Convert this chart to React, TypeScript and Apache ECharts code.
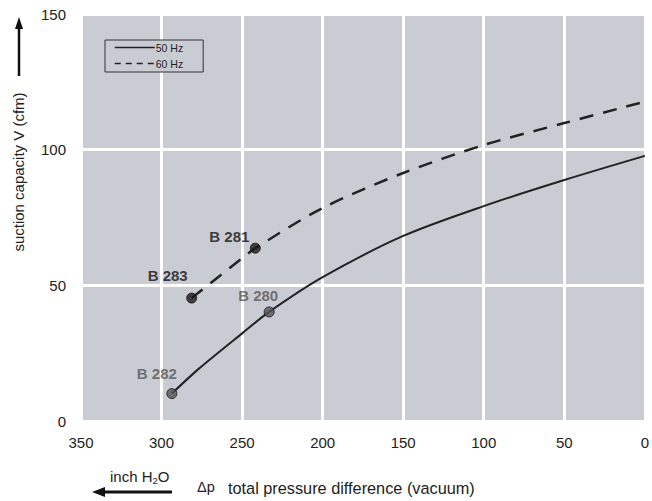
import React, { useEffect, useRef } from "react";
import * as echarts from "echarts";

const xTicks = { min: 0, max: 350, interval: 50 };
const yTicks = { min: 0, max: 150, interval: 50 };

const curve50Hz: [number, number][] = [
  [293.6, 10.1], [276.8, 19.3], [250, 32.3], [233.2, 40.2], [200, 53],
  [150, 68.2], [100, 79.2], [50, 88.8], [0, 97.7],
];
const curve60Hz: [number, number][] = [
  [281.3, 45.3], [250, 60], [241.8, 63.7], [200, 78.5], [150, 91.4],
  [100, 101.7], [50, 109.8], [0, 117.7],
];

const models50Hz = ["B 282", "B 280"];
const points50Hz: [number, number][] = [[293.6, 10.1], [233.2, 40.2]];
const models60Hz = ["B 283", "B 281"];
const points60Hz: [number, number][] = [[281.3, 45.3], [241.8, 63.7]];

const labelOffsets: Record<string, [number, number]> = {
  "B 282": [-15, -20],
  "B 280": [-11, -16],
  "B 283": [-24, -23],
  "B 281": [-26, -12],
};

const FONT = "'Liberation Sans', Arial, sans-serif";

export default function App() {
  const ref = useRef<HTMLDivElement>(null);
  useEffect(() => {
    if (!ref.current) return;
    const chart = echarts.init(ref.current, undefined, { renderer: "svg" });
    const mkPoints = (names: string[], pts: [number, number][], fill: string, txt: string) =>
      pts.map((p, i) => ({
        value: p,
        name: names[i],
        itemStyle: { color: fill, borderColor: "#111", borderWidth: 1 },
        label: {
          show: true,
          formatter: names[i],
          position: "inside",
          offset: labelOffsets[names[i]],
          color: txt,
          fontWeight: "bold",
          fontSize: 15,
          fontFamily: FONT,
        },
      }));
    chart.setOption({
      animation: false,
      textStyle: { fontFamily: FONT },
      grid: {
        left: 81, right: 2, top: 14, bottom: 80,
        show: true, backgroundColor: "#caccd3", borderWidth: 0,
      },
      legend: {
        data: [
          { name: "50 Hz" },
          { name: "60 Hz", lineStyle: { type: [6, 5], width: 1.5 } },
        ],
        orient: "vertical",
        left: 105,
        top: 40,
        itemWidth: 40,
        itemHeight: 10,
        itemGap: 5,
        padding: [2, 20, 3, 9],
        borderColor: "#333",
        borderWidth: 1,
        backgroundColor: "#caccd3",
        itemStyle: { opacity: 0 },
        lineStyle: { width: 1.5 },
        textStyle: { fontSize: 10.5, color: "#222", fontFamily: FONT, padding: [0, 0, 0, -4] },
      },
      xAxis: {
        type: "value",
        inverse: true,
        min: xTicks.min, max: xTicks.max, interval: xTicks.interval,
        axisLine: { show: false }, axisTick: { show: false },
        splitLine: { show: true, lineStyle: { color: "#ffffff", width: 3 } },
        axisLabel: { fontSize: 15, color: "#222", margin: 14, fontFamily: FONT },
      },
      yAxis: {
        type: "value",
        min: yTicks.min, max: yTicks.max, interval: yTicks.interval,
        axisLine: { show: false }, axisTick: { show: false },
        splitLine: { show: true, lineStyle: { color: "#ffffff", width: 3 } },
        axisLabel: { fontSize: 15, color: "#222", margin: 15, fontFamily: FONT },
      },
      series: [
        {
          name: "50 Hz", type: "line", data: curve50Hz, smooth: 0.3, symbol: "none",
          lineStyle: { color: "#222", width: 2 }, itemStyle: { color: "#222" }, z: 2,
        },
        {
          name: "60 Hz", type: "line", data: curve60Hz, smooth: 0.3, symbol: "none",
          lineStyle: { color: "#222", width: 2.5, type: [14, 10] }, itemStyle: { color: "#222" }, z: 2,
        },
        {
          name: "m50", type: "scatter", symbolSize: 10, z: 3,
          data: mkPoints(models50Hz, points50Hz, "#555", "#555"),
        },
        {
          name: "m60", type: "scatter", symbolSize: 10, z: 3,
          data: mkPoints(models60Hz, points60Hz, "#1a1a1a", "#111"),
        },
      ],
      graphic: [
        { type: "line", shape: { x1: 19, y1: 28, x2: 19, y2: 76 }, style: { stroke: "#111", lineWidth: 2.5 } },
        { type: "polygon", shape: { points: [[19, 17], [15, 29], [23, 29]] }, style: { fill: "#111" } },
        {
          type: "text", x: 18, y: 172, rotation: Math.PI / 2,
          style: { text: "suction capacity V (cfm)", fontSize: 15, fill: "#222", fontFamily: FONT, align: "center", verticalAlign: "middle" },
        },
        { type: "line", shape: { x1: 103, y1: 492, x2: 172, y2: 492 }, style: { stroke: "#111", lineWidth: 3 } },
        { type: "polygon", shape: { points: [[92, 492], [105, 487], [105, 497]] }, style: { fill: "#111" } },
        {
          type: "text", x: 110, y: 476,
          style: {
            text: "{a|inch H}{s|2}{a|O}",
            rich: {
              a: { fontSize: 15, fill: "#222", fontFamily: FONT, verticalAlign: "middle" },
              s: { fontSize: 9.5, fill: "#222", fontFamily: FONT, padding: [8, 0, 0, 0], verticalAlign: "bottom" },
            },
            verticalAlign: "middle",
          },
        },
        {
          type: "text", x: 197, y: 487,
          style: { text: "Δp", fontSize: 14.5, fill: "#222", fontFamily: FONT, verticalAlign: "middle" },
        },
        {
          type: "text", x: 228, y: 488,
          style: { text: "total pressure difference (vacuum)", fontSize: 16.3, fill: "#222", fontFamily: FONT, verticalAlign: "middle" },
        },
      ],
    });
    return () => chart.dispose();
  }, []);
  return <div ref={ref} style={{ width: 652, height: 501, position: "absolute", left: 0, top: 0 }} />;
}
